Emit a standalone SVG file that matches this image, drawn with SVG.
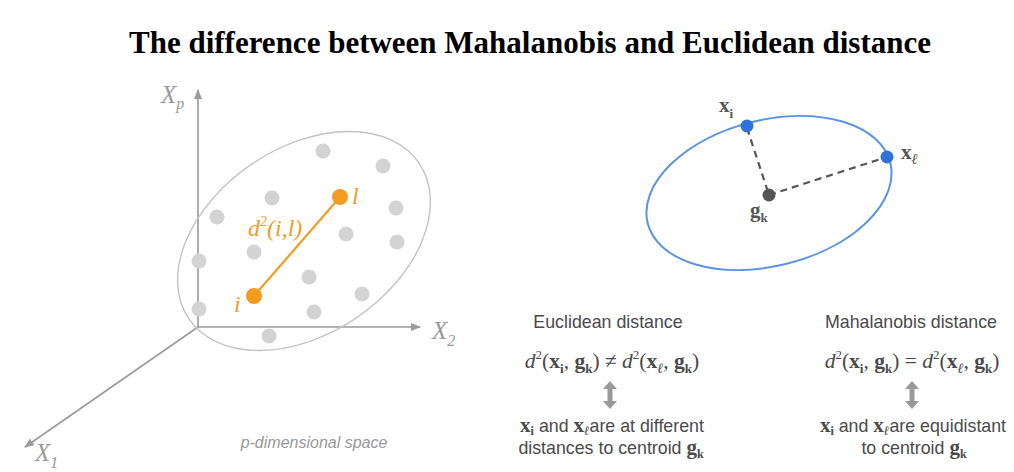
<svg xmlns="http://www.w3.org/2000/svg" width="1014" height="472" viewBox="0 0 1014 472">
<defs>
<style>
.title{font-family:"Liberation Serif",serif;font-weight:bold;font-size:31px;fill:#000}
.ax{stroke:#9a9a9a;stroke-width:1.6;fill:none}
.axl{font-family:"Liberation Serif",serif;font-style:italic;font-size:25px;fill:#9a9a9a}
.axs{font-size:16px}
.dot{fill:#d3d3d3}
.or{fill:#f39c1f}
.orl{font-family:"Liberation Serif",serif;font-style:italic;font-size:24px;fill:#f39c1f}
.cap{font-family:"Liberation Sans",Arial,sans-serif;font-style:italic;font-size:16px;fill:#999}
.lbl{font-family:"Liberation Sans",Arial,sans-serif;font-size:17.8px;fill:#4a4a4a}
.fm{font-family:"Liberation Serif",serif;font-size:21.5px;fill:#4a4a4a}
.bx{font-family:"Liberation Serif",serif;font-weight:bold;fill:#4a4a4a}
.vl{font-family:"Liberation Serif",serif;font-weight:bold;font-size:21px;fill:#555}
.dash{stroke:#555;stroke-width:2.2;stroke-dasharray:7 5;fill:none}
.darr{fill:#999}
</style>
<marker id="ah" markerWidth="10" markerHeight="8" refX="9" refY="4" orient="auto" markerUnits="userSpaceOnUse">
<path d="M0,0 L10,4 L0,8 Z" fill="#9a9a9a"/>
</marker>
</defs>
<rect width="1014" height="472" fill="#fff"/>
<text class="title" x="530" y="53" text-anchor="middle">The difference between Mahalanobis and Euclidean distance</text>

<g id="axes">
<line class="ax" x1="198" y1="327" x2="198" y2="90" marker-end="url(#ah)"/>
<line class="ax" x1="198" y1="327" x2="420" y2="327" marker-end="url(#ah)"/>
<line class="ax" x1="198" y1="327" x2="25" y2="447" marker-end="url(#ah)"/>
<text class="axl" x="161" y="103">X<tspan class="axs" dy="6">p</tspan></text>
<text class="axl" x="432" y="339">X<tspan class="axs" dy="7">2</tspan></text>
<text class="axl" x="35" y="461">X<tspan class="axs" dy="7">1</tspan></text>
</g>

<g id="cluster">
<ellipse cx="304" cy="241" rx="139" ry="93" transform="rotate(-34 304 241)" fill="none" stroke="#c4c4c4" stroke-width="1.4"/>
<circle class="dot" cx="323" cy="151" r="7.5"/>
<circle class="dot" cx="383" cy="166" r="7.5"/>
<circle class="dot" cx="272" cy="198" r="7.5"/>
<circle class="dot" cx="396" cy="208" r="7.5"/>
<circle class="dot" cx="217" cy="217" r="7.5"/>
<circle class="dot" cx="346" cy="234" r="7.5"/>
<circle class="dot" cx="397" cy="242" r="7.5"/>
<circle class="dot" cx="254" cy="252" r="7.5"/>
<circle class="dot" cx="199" cy="261" r="7.5"/>
<circle class="dot" cx="309" cy="277" r="7.5"/>
<circle class="dot" cx="362" cy="294" r="7.5"/>
<circle class="dot" cx="199" cy="309" r="7.5"/>
<circle class="dot" cx="314" cy="312" r="7.5"/>
<circle class="dot" cx="269" cy="336" r="7.5"/>
</g>

<g id="pair">
<line x1="254" y1="296" x2="340" y2="197" stroke="#f39c1f" stroke-width="2.2"/>
<circle class="or" cx="340" cy="197" r="8"/>
<circle class="or" cx="254" cy="296" r="8"/>
<text class="orl" x="352" y="204">l</text>
<text class="orl" x="234" y="312">i</text>
<text class="orl" x="248" y="236">d<tspan font-size="14" dy="-10">2</tspan><tspan dy="10">(i,l)</tspan></text>
</g>
<text class="cap" x="314" y="448" text-anchor="middle">p-dimensional space</text>

<g id="connectors">
<line class="dash" x1="747" y1="128" x2="769" y2="195"/>
<line class="dash" x1="769" y1="195" x2="887" y2="157"/>
</g>

<g id="blue-ellipse">
<ellipse cx="769" cy="193" rx="125" ry="73" transform="rotate(-14 769 193)" fill="none" stroke="#5b93e0" stroke-width="2"/>
</g>
<g id="xi">
<circle cx="747" cy="126" r="6.5" fill="#2f72d8"/>
<text class="vl" x="719" y="112">x<tspan font-size="13" dy="6">i</tspan></text>
</g>
<g id="xl">
<circle cx="887" cy="157" r="6.5" fill="#2f72d8"/>
<text class="vl" x="901" y="159">x<tspan font-size="15" font-style="italic" dy="5">ℓ</tspan></text>
</g>
<g id="gk">
<circle cx="769" cy="195" r="6.5" fill="#555"/>
<text class="vl" x="750" y="217">g<tspan font-size="13" dy="5">k</tspan></text>
</g>

<g id="euclid">
<text class="lbl" x="608" y="328" text-anchor="middle">Euclidean distance</text>
<text class="fm" x="612" y="368" text-anchor="middle"><tspan font-style="italic">d</tspan><tspan font-size="13" dy="-9">2</tspan><tspan dy="9">(</tspan><tspan class="bx">x</tspan><tspan class="bx" font-size="13" dy="5">i</tspan><tspan dy="-5">, </tspan><tspan class="bx">g</tspan><tspan class="bx" font-size="13" dy="5">k</tspan><tspan dy="-5">) ≠ </tspan><tspan font-style="italic">d</tspan><tspan font-size="13" dy="-9">2</tspan><tspan dy="9">(</tspan><tspan class="bx">x</tspan><tspan class="bx" font-size="14" font-style="italic" dy="5">ℓ</tspan><tspan dy="-5">, </tspan><tspan class="bx">g</tspan><tspan class="bx" font-size="13" dy="5">k</tspan><tspan dy="-5">)</tspan></text>
<path class="darr" d="M610,381 L617,389 L612.5,389 L612.5,401 L617,401 L610,409 L603,401 L607.5,401 L607.5,389 L603,389 Z"/>
<text class="lbl" x="612" y="432" text-anchor="middle"><tspan class="bx" font-size="21">x</tspan><tspan class="bx" font-size="12" dy="3">i</tspan><tspan dy="-3"> and </tspan><tspan class="bx" font-size="21">x</tspan><tspan class="bx" font-size="13" font-style="italic" dy="3">ℓ</tspan><tspan dy="-3">are at different</tspan></text>
<text class="lbl" x="611" y="454" text-anchor="middle">distances to centroid <tspan class="bx" font-size="21">g</tspan><tspan class="bx" font-size="12" dy="4">k</tspan></text>
</g>

<g id="mahal">
<text class="lbl" x="911" y="328" text-anchor="middle">Mahalanobis distance</text>
<text class="fm" x="912" y="368" text-anchor="middle"><tspan font-style="italic">d</tspan><tspan font-size="13" dy="-9">2</tspan><tspan dy="9">(</tspan><tspan class="bx">x</tspan><tspan class="bx" font-size="13" dy="5">i</tspan><tspan dy="-5">, </tspan><tspan class="bx">g</tspan><tspan class="bx" font-size="13" dy="5">k</tspan><tspan dy="-5">) = </tspan><tspan font-style="italic">d</tspan><tspan font-size="13" dy="-9">2</tspan><tspan dy="9">(</tspan><tspan class="bx">x</tspan><tspan class="bx" font-size="14" font-style="italic" dy="5">ℓ</tspan><tspan dy="-5">, </tspan><tspan class="bx">g</tspan><tspan class="bx" font-size="13" dy="5">k</tspan><tspan dy="-5">)</tspan></text>
<path class="darr" d="M912,381 L919,389 L914.5,389 L914.5,401 L919,401 L912,409 L905,401 L909.5,401 L909.5,389 L905,389 Z"/>
<text class="lbl" x="913" y="432" text-anchor="middle"><tspan class="bx" font-size="21">x</tspan><tspan class="bx" font-size="12" dy="3">i</tspan><tspan dy="-3"> and </tspan><tspan class="bx" font-size="21">x</tspan><tspan class="bx" font-size="13" font-style="italic" dy="3">ℓ</tspan><tspan dy="-3">are equidistant</tspan></text>
<text class="lbl" x="914" y="454" text-anchor="middle">to centroid <tspan class="bx" font-size="21">g</tspan><tspan class="bx" font-size="12" dy="4">k</tspan></text>
</g>
</svg>
